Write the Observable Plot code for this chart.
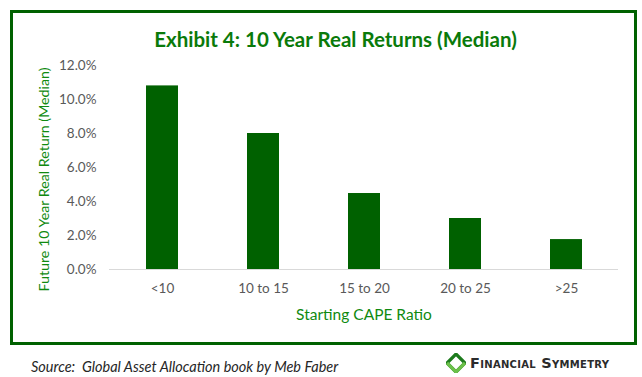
<!DOCTYPE html>
<html>
<head>
<meta charset="utf-8">
<script src="https://cdn.jsdelivr.net/npm/d3@7"></script>
<script src="https://cdn.jsdelivr.net/npm/@observablehq/plot@0.6"></script>
<style>
  html, body { margin: 0; padding: 0; background: #fff; width: 642px; height: 377px; overflow: hidden; }
  #wrap { position: relative; width: 642px; height: 377px; font-family: Lato, "Open Sans", sans-serif; }
  #frame { position: absolute; left: 10px; top: 10px; width: 621px; height: 329px; border: 3px solid #006100; }
  #title { position: absolute; left: 10px; width: 627px; top: 27px; text-align: center; padding-left: 24px; box-sizing: border-box;
           font-family: Lato, sans-serif; font-weight: bold; font-size: 20.5px; color: #0a7a0a; line-height: 24px; }
  #chart { position: absolute; left: 0; top: 0; }
  #source { position: absolute; left: 31px; top: 358px; font-style: italic; font-size: 14.5px; color: #262626; line-height: 17px; }
  #logo { position: absolute; left: 446px; top: 353px; height: 20px; display: flex; align-items: center; }
  #logo span { font-family: "DejaVu Sans", sans-serif; font-weight: bold; font-variant: small-caps; font-size: 14.5px; color: #2b2b2b; letter-spacing: 0.3px; margin-left: 4px; }
</style>
</head>
<body>
<div id="wrap">
  <div id="frame"></div>
  <div id="chart"></div>
  <div id="title">Exhibit 4: 10 Year Real Returns (Median)</div>
  <div id="source">Source:&nbsp; Global Asset Allocation book by Meb Faber</div>
  <div id="logo">
    <svg width="20" height="20" viewBox="0 0 20 20">
      <polygon points="10,1 19,10 10,19 1,10" fill="none" stroke="#1c7a1c" stroke-width="3.2"/>
      <polyline points="19,10 10,19 1,10" fill="none" stroke="#6cc04a" stroke-width="3.2"/>
    </svg>
    <span>Financial Symmetry</span>
  </div>
</div>
<script>
const categories = ["<10", "10 to 15", "15 to 20", "20 to 25", ">25"];
const medianReturns = [0.108, 0.080, 0.0447, 0.030, 0.0176];
const yTicks = [0, 0.02, 0.04, 0.06, 0.08, 0.10, 0.12];
const xTitle = "Starting CAPE Ratio";
const yTitle = "Future 10 Year Real Return (Median)";

const data = categories.map((c, i) => ({category: c, value: medianReturns[i]}));

const chart = Plot.plot({
  width: 642,
  height: 377,
  marginLeft: 109,
  marginRight: 24,
  marginTop: 65,
  marginBottom: 108,
  style: {fontFamily: "Lato, 'Open Sans', sans-serif", fontSize: "13.5px", color: "#595959", background: "transparent"},
  x: {domain: categories, paddingInner: 0.685, paddingOuter: 0.3425, label: null},
  y: {domain: [0, 0.12], label: null},
  marks: [
    Plot.barY(data, {x: "category", y: "value", fill: "#006100"}),
    Plot.ruleY([0], {stroke: "#d9d9d9", strokeWidth: 1.2}),
    Plot.axisY({ticks: yTicks, tickFormat: d3.format(".1%"), tickSize: 0, tickPadding: 13, fill: "#595959"}),
    Plot.axisX({tickSize: 0, tickPadding: 14, fill: "#595959", label: null}),
    Plot.text([yTitle], {frameAnchor: "left", dx: -65, dy: 12, rotate: -90, textAnchor: "middle", fill: "#108a10", fontSize: 14.2, text: d => d}),
    Plot.text([xTitle], {frameAnchor: "bottom", dy: 50, fill: "#108a10", fontSize: 15.5, text: d => d})
  ]
});
document.getElementById("chart").appendChild(chart);
</script>
</body>
</html>
